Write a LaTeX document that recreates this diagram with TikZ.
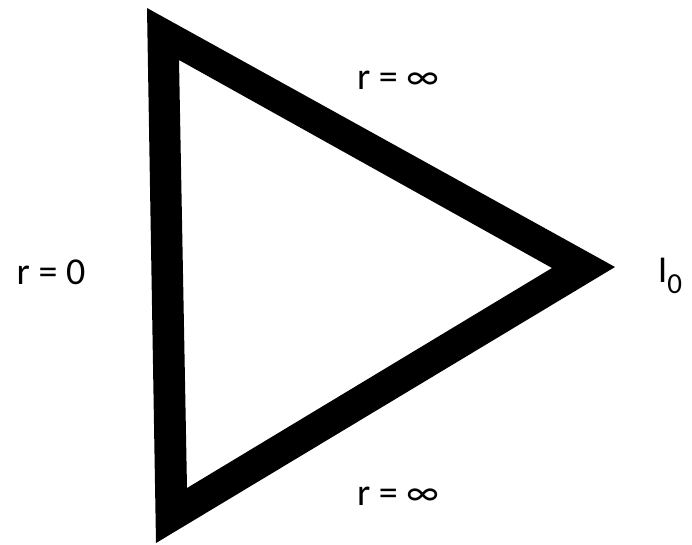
\documentclass[tikz,border=0pt]{standalone}
\usepackage{fontspec}
\setmainfont{Carlito}
\begin{document}
\begin{tikzpicture}[x=1pt,y=-1pt,
  lbl/.style={font=\fontsize{38}{44}\selectfont, inner sep=0pt}]
\useasboundingbox (0,0) rectangle (692,544);
\fill[black, even odd rule]
  (147,8) -- (615,267) -- (156,543) -- cycle
  (179,60) -- (552,268) -- (187,488) -- cycle;
\node[lbl] (top) at (398,80) {r = ∞};
\node[lbl] (bot) at (398,496) {r = ∞};
\node[lbl] (left) at (51,272) {r = 0};
\node[lbl] (right) at (670,276) {I\raisebox{-0.28em}{\fontsize{29}{34}\selectfont 0}};
\end{tikzpicture}
\end{document}
